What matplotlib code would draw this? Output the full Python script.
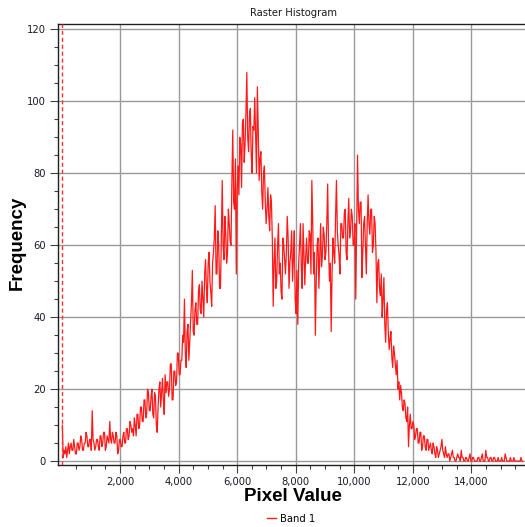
import matplotlib
matplotlib.use("Agg")
import matplotlib.pyplot as plt
from matplotlib.ticker import FixedLocator, MultipleLocator, FuncFormatter
from matplotlib.lines import Line2D
import numpy as np

# ---------------- data ----------------
title = "Raster Histogram"
x_label = "Pixel Value"
y_label = "Frequency"
series_name = "Band 1"
min_marker = 30          # dashed marker (minimum pixel value)
bin_start = 30
bin_width = 30
counts = [
    10, 1, 3, 2, 4, 1, 3, 5, 2, 4, 5, 3, 3, 6, 4, 2, 2, 5, 5, 3,
    4, 7, 6, 3, 3, 5, 5, 8, 7, 4, 4, 6, 6, 3, 14, 6, 5, 3, 4, 6,
    6, 4, 3, 7, 7, 4, 5, 8, 8, 3, 4, 7, 6, 5, 11, 6, 5, 8, 7, 5,
    5, 8, 7, 2, 3, 6, 6, 4, 4, 7, 8, 5, 5, 9, 9, 6, 7, 11, 10, 8,
    9, 7, 12, 10, 7, 13, 13, 9, 10, 15, 15, 11, 11, 17, 17, 12, 13, 20, 19, 14,
    14, 18, 20, 13, 12, 19, 18, 10, 8, 15, 20, 22, 15, 19, 23, 17, 13, 24, 19, 22,
    22, 18, 20, 27, 27, 17, 17, 25, 25, 21, 22, 30, 30, 24, 24, 28, 28, 35, 33, 45,
    30, 26, 36, 38, 28, 33, 39, 44, 53, 36, 35, 42, 44, 38, 38, 47, 49, 42, 41, 50,
    45, 40, 52, 56, 48, 44, 55, 58, 50, 47, 43, 55, 58, 62, 71, 52, 52, 64, 60, 48,
    48, 62, 78, 60, 56, 68, 63, 55, 58, 70, 66, 61, 60, 78, 92, 72, 70, 84, 52, 75,
    82, 74, 90, 88, 76, 94, 95, 83, 88, 97, 108, 90, 86, 96, 98, 85, 80, 93, 92, 101,
    90, 80, 104, 92, 78, 84, 86, 75, 70, 80, 82, 72, 66, 70, 76, 68, 64, 74, 72, 62,
    43, 55, 62, 48, 50, 60, 66, 52, 55, 47, 45, 62, 60, 56, 52, 58, 68, 62, 48, 55,
    58, 64, 50, 56, 64, 45, 41, 53, 38, 55, 60, 66, 54, 48, 66, 58, 49, 57, 62, 55,
    55, 64, 63, 52, 78, 66, 52, 58, 35, 50, 60, 62, 48, 57, 66, 54, 57, 65, 63, 56,
    58, 66, 77, 60, 50, 55, 36, 52, 62, 58, 55, 68, 78, 64, 60, 57, 52, 66, 66, 62,
    62, 69, 70, 58, 56, 66, 73, 62, 64, 70, 68, 60, 60, 66, 45, 64, 85, 70, 66, 72,
    72, 51, 58, 66, 68, 60, 52, 66, 74, 66, 63, 70, 70, 58, 60, 68, 66, 58, 44, 55,
    56, 48, 46, 52, 40, 45, 51, 38, 33, 42, 44, 36, 31, 34, 36, 29, 26, 32, 30, 27,
    24, 28, 20, 22, 17, 21, 19, 15, 14, 17, 16, 12, 11, 15, 4, 10, 13, 9, 9, 11,
    10, 6, 7, 9, 9, 5, 5, 8, 8, 3, 4, 7, 7, 4, 3, 6, 6, 3, 4, 5,
    3, 2, 5, 4, 2, 1, 4, 3, 1, 2, 3, 4, 6, 3, 2, 1, 4, 2, 1, 2,
    2, 0, 1, 2, 3, 1, 1, 0, 0, 1, 2, 1, 1, 0, 3, 1, 1, 0, 0, 1,
    1, 0, 0, 1, 2, 0, 0, 1, 1, 0, 0, 0, 0, 1, 1, 0, 0, 1, 2, 0,
    0, 0, 3, 1, 1, 0, 0, 1, 1, 0, 0, 1, 1, 0, 0, 0, 1, 0, 0, 0,
    1, 0, 0, 0, 2, 1, 0, 0, 0, 0, 1, 0, 0, 0, 1, 0, 0, 0, 0, 0,
    0, 0, 1, 0, 0,
]
x_major = [2000, 4000, 6000, 8000, 10000, 12000, 14000]
y_major = [0, 20, 40, 60, 80, 100, 120]

# ---------------- figure ----------------
fig = plt.figure(figsize=(5.25, 5.27), dpi=100)
ax = fig.add_axes([0.111, 0.1176, 0.8947, 0.8363])

pixel_values = bin_start + bin_width * np.arange(len(counts))
ax.plot(pixel_values, counts, color="#ff1a1a", lw=0.9, zorder=3)
ax.axvline(min_marker, color="#ff3030", lw=1.0, ls=(0, (3, 2)), zorder=4)

ax.set_xlim(-108, 15930)
ax.set_ylim(-1.1, 121.4)

ax.xaxis.set_major_locator(FixedLocator(x_major))
ax.xaxis.set_minor_locator(FixedLocator([v for v in range(500, 16000, 500) if v % 2000]))
ax.yaxis.set_major_locator(FixedLocator(y_major))
ax.yaxis.set_minor_locator(MultipleLocator(5))
ax.xaxis.set_major_formatter(FuncFormatter(lambda v, p: f"{v:,.0f}"))
ax.yaxis.set_major_formatter(FuncFormatter(lambda v, p: f"{v:.0f}"))

ax.grid(True, which="major", color="#9a9a9a", lw=1.0, zorder=0)
ax.set_axisbelow(True)

for s in ["top", "left", "bottom"]:
    ax.spines[s].set_color("#202020")
    ax.spines[s].set_linewidth(1.0)
ax.spines["right"].set_visible(False)

ax.tick_params(axis="both", which="major", length=5.8, width=0.8, color="#404040",
               labelsize=7.2, labelcolor="#1a1a2a", pad=3)
ax.tick_params(axis="both", which="minor", length=3.2, width=0.8, color="#404040")

fig.text(0.559, 0.975, title, ha="center", va="center", fontsize=7.2, color="#1a1a1a")
fig.text(0.558, 0.057, x_label, ha="center", va="center", fontsize=13.5,
         fontweight="bold", family="Liberation Sans")
fig.text(0.033, 0.54, y_label, ha="center", va="center", rotation=90, fontsize=13.5,
         fontweight="bold", family="Liberation Sans")

handle = Line2D([], [], color="#ff1a1a", lw=1.0)
fig.legend([handle], [series_name], loc="center", bbox_to_anchor=(0.555, 0.016),
           frameon=False, fontsize=7.2, handlelength=0.9, handletextpad=0.4,
           borderpad=0, borderaxespad=0)

fig.savefig("out.png", dpi=100)
